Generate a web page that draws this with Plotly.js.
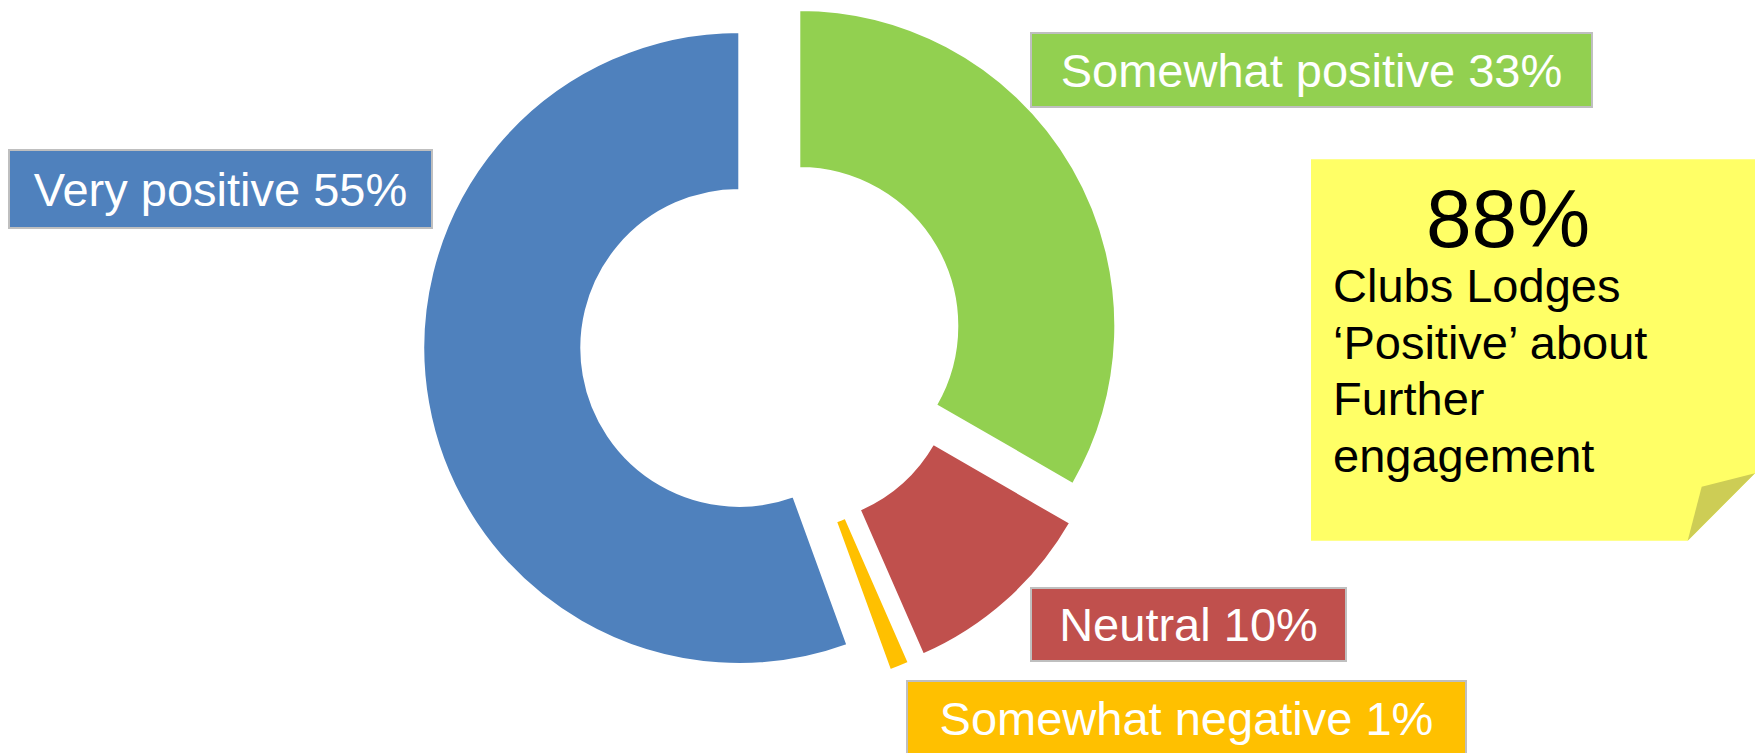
<!DOCTYPE html>
<html>
<head>
<meta charset="utf-8">
<script src="https://cdn.plot.ly/plotly-3.0.1.min.js"></script>
<style>
  html, body { margin: 0; padding: 0; background: #ffffff; }
  #chart { width: 1758px; height: 753px; }
</style>
</head>
<body>
<div id="chart"></div>
<script>
// ---- data ----
const categories = ['Very positive', 'Somewhat positive', 'Neutral', 'Somewhat negative'];
const values = [55, 33, 10, 1];
const sliceColors = ['#4F81BD', '#92D050', '#C0504D', '#FFC000'];
const noteHeadline = '88%';
const noteLines = ['Clubs Lodges', '\u2018Positive\u2019 about', 'Further', 'engagement'];

// ---- layout helpers (positions / styles) ----
const W = 1758, H = 753;
const R = 316;                 // outer radius in px
const HOLE = 0.5;
// exploded slice centres (px) – one per category
const sliceCentres = [[739.3, 347.9], [799.3, 326.0], [796.4, 365.0], [782.0, 373.2]];
// label boxes (px): left, top, width, height
const labelBoxes = [
  [8, 149, 425, 80],
  [1030, 31.7, 563, 76],
  [1030, 586.7, 317, 75],
  [905.6, 680, 561, 76]
];
const FONT = 'Liberation Sans, Arial, sans-serif';

const px = x => x / W;
const py = y => 1 - y / H;

const total = values.reduce((a, b) => a + b, 0);
const rotation = 360 - values[0] / total * 360;

const traces = categories.map((c, i) => ({
  type: 'pie',
  labels: categories,
  values: values,
  sort: false,
  direction: 'clockwise',
  rotation: rotation,
  hole: HOLE,
  textinfo: 'none',
  hoverinfo: 'skip',
  showlegend: false,
  marker: {
    colors: categories.map((_, j) => j === i ? sliceColors[j] : 'rgba(0,0,0,0)'),
    line: {
      color: categories.map((_, j) => j === i ? '#FFFFFF' : 'rgba(0,0,0,0)'),
      width: 2
    }
  },
  domain: {
    x: [px(sliceCentres[i][0] - R), px(sliceCentres[i][0] + R)],
    y: [py(sliceCentres[i][1] + R), py(sliceCentres[i][1] - R)]
  }
}));

const annotations = categories.map((c, i) => {
  const b = labelBoxes[i];
  return {
    xref: 'paper', yref: 'paper',
    x: px(b[0]), y: py(b[1]),
    xanchor: 'left', yanchor: 'top',
    width: b[2] - 4, height: b[3] - 4,
    borderwidth: 2, borderpad: 0,
    bordercolor: '#BFBFBF',
    bgcolor: sliceColors[i],
    align: 'center', valign: 'middle',
    showarrow: false,
    text: c + ' ' + values[i] + '%',
    font: { family: FONT, size: 47, color: '#FFFFFF' }
  };
});

// sticky note text
annotations.push({
  xref: 'paper', yref: 'paper',
  x: px(1508), y: py(218.3),
  xanchor: 'center', yanchor: 'middle',
  borderpad: 0, showarrow: false,
  text: noteHeadline,
  font: { family: FONT, size: 82, color: '#000000' }
});
noteLines.forEach((t, k) => {
  annotations.push({
    xref: 'paper', yref: 'paper',
    x: px(1331.7), y: py(285.4 + k * 56.7),
    xanchor: 'left', yanchor: 'middle',
    align: 'left',
    borderpad: 0, showarrow: false,
    text: t,
    font: { family: FONT, size: 47, color: '#000000' }
  });
});

function path(pts) {
  return 'M ' + pts.map(p => px(p[0]).toFixed(5) + ',' + py(p[1]).toFixed(5)).join(' L ') + ' Z';
}

const shapes = [
  {
    type: 'path', xref: 'paper', yref: 'paper', layer: 'below',
    path: path([[1311, 159.3], [1755, 159.3], [1755, 473.3], [1687.7, 540.7], [1311, 540.7]]),
    fillcolor: '#FFFF66', line: { width: 0 }
  },
  {
    type: 'path', xref: 'paper', yref: 'paper', layer: 'below',
    path: path([[1755, 473.3], [1701.7, 486.7], [1687.7, 540.7]]),
    fillcolor: '#CDCD55', line: { width: 0 }
  }
];

const layout = {
  width: W, height: H,
  margin: { l: 0, r: 0, t: 0, b: 0 },
  paper_bgcolor: '#FFFFFF',
  plot_bgcolor: '#FFFFFF',
  showlegend: false,
  annotations: annotations,
  shapes: shapes
};

Plotly.newPlot('chart', traces, layout, { displayModeBar: false, staticPlot: true });
</script>
</body>
</html>
